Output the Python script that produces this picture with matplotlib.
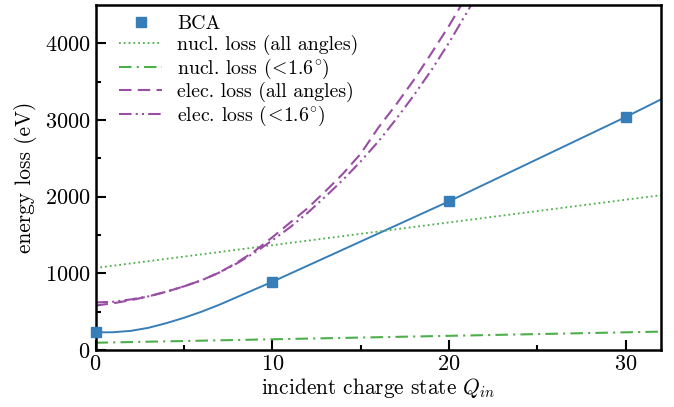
import numpy as np
import matplotlib
matplotlib.use("Agg")
import matplotlib.pyplot as plt

plt.rcParams['font.family'] = 'cmr10'
plt.rcParams['mathtext.fontset'] = 'cm'
plt.rcParams['axes.formatter.use_mathtext'] = True
plt.rcParams['font.size'] = 16

# BCA simulation points
bca_q = [0, 10, 20, 30]
bca_e = [235, 890, 1940, 3040]

# fit through the BCA points
fit_q = [0, 1, 2, 3, 4, 5, 6, 7, 8, 9, 10, 12, 14, 16, 18, 20, 22, 24, 26, 28, 30, 32]
fit_e = [230, 232, 250, 290, 350, 420, 500, 590, 690, 790, 890, 1100, 1310,
         1520, 1730, 1940, 2160, 2380, 2600, 2820, 3040, 3270]

# nuclear losses
nucl_q = [0, 10, 20, 32]
nucl_all = [1070, 1367, 1664, 2020]
nucl_small = [95, 140, 185, 240]

# electronic losses
elec_q = [0, 1, 2, 3, 4, 5, 6, 7, 8, 9, 10, 11, 12, 13, 14, 15, 16, 17, 18, 19, 20, 21, 22]
elec_all = [580, 610, 650, 700, 760, 830, 910, 1010, 1140, 1290, 1470, 1660, 1850,
            2070, 2300, 2560, 2900, 3200, 3520, 3870, 4230, 4620, 5020]
elec_small = [620, 630, 660, 700, 760, 830, 910, 1010, 1130, 1270, 1430, 1600, 1790,
              2000, 2220, 2460, 2720, 3010, 3320, 3650, 4010, 4400, 4800]

blue = '#377eb8'
green = '#4daf4a'
purple = '#984ea3'

fig = plt.figure(figsize=(6.74, 4.07), dpi=100)
ax = fig.add_axes([0.1417, 0.140, 0.8393, 0.8477])

ax.plot(bca_q, bca_e, 's', color=blue, ms=7, label='BCA', clip_on=False, zorder=5)
ax.plot(fit_q, fit_e, '-', color=blue, lw=1.4)
ax.plot(nucl_q, nucl_all, ':', color=green, lw=1.3, label='nucl. loss (all angles)')
ax.plot(nucl_q, nucl_small, color=green, lw=1.5, ls=(0, (6, 2.5, 1, 2.5)),
        label=r'nucl. loss ($\!<\!1.6^{\!\circ}\!$)')
ax.plot(elec_q, elec_all, color=purple, lw=1.5, ls=(0, (6, 3)),
        label='elec. loss (all angles)')
ax.plot(elec_q, elec_small, color=purple, lw=1.5, ls=(0, (6, 2, 1, 2, 1, 2)),
        label=r'elec. loss ($\!<\!1.6^{\!\circ}\!$)')

ax.set_xlim(0, 32)
ax.set_ylim(0, 4500)
ax.set_xticks([0, 10, 20, 30])
ax.set_xticks([5, 15, 25], minor=True)
ax.set_yticks([0, 1000, 2000, 3000, 4000])
ax.set_yticks([500, 1500, 2500, 3500], minor=True)
ax.tick_params(which='major', direction='in', length=7, width=1.5, labelsize=16)
ax.tick_params(which='minor', direction='in', length=3.5, width=1.5)
for s in ax.spines.values():
    s.set_linewidth(1.8)

ax.set_xlabel(r'incident charge state $Q_{in}$', fontsize=15.4, labelpad=1)
ax.set_ylabel('energy loss (eV)', fontsize=15.4)
ax.yaxis.set_label_coords(-0.104, 0.5)

ax.legend(loc='upper left', bbox_to_anchor=(0.042, 0.97), frameon=False,
          fontsize=14.3, labelspacing=0.08, handlelength=2.16, handletextpad=0.75,
          borderaxespad=0, borderpad=0)

fig.savefig('out.png', dpi=100)
